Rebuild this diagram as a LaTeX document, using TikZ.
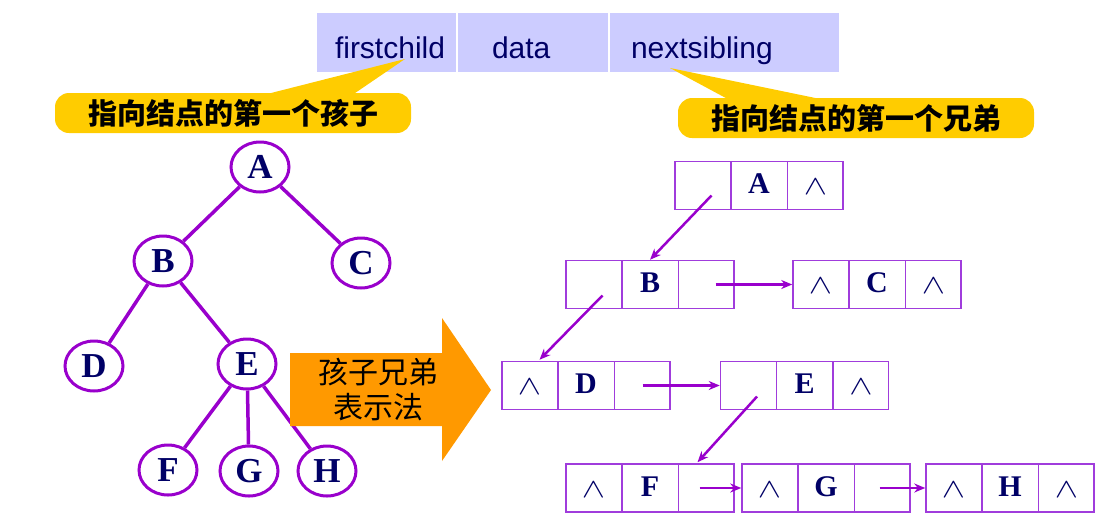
\documentclass[tikz,border=0pt]{standalone}
\usepackage{fontspec}
\setmainfont{Liberation Serif}
\setsansfont{Liberation Sans}
\newfontfamily\cjk{Noto Sans CJK SC}
\usetikzlibrary{calc,shapes.multipart,shapes.geometric,arrows.meta}
\definecolor{treepurple}{HTML}{9900CC}
\definecolor{boxpurple}{HTML}{A03CDC}
\definecolor{navy}{HTML}{000066}
\definecolor{lavender}{HTML}{CCCCFF}
\definecolor{notegold}{HTML}{FFCC00}
\definecolor{arroworange}{HTML}{FF9900}
\newcommand{\cell}[1]{\makebox[55pt]{\rule[-16pt]{0pt}{48pt}#1}}
\newcommand{\nullmark}{{\fontsize{24}{24}\selectfont\raisebox{-1pt}{\scalebox{1.4}[1.1]{$\wedge$}}}}
\newcommand{\fmtcell}[3]{\makebox[#1pt][l]{\rule[-15pt]{0pt}{61pt}\hspace{#2pt}#3}}

\begin{document}
\begin{tikzpicture}[
x=1pt, y=-1pt,
vertex/.style={
	ellipse, draw=treepurple, line width=3pt,
	minimum width=58pt, minimum height=50pt,
	inner sep=0pt, text=navy,
	font=\fontsize{35}{35}\selectfont\bfseries
},
edge/.style={draw=treepurple, line width=3.5pt},
rec/.style={
	rectangle split, rectangle split parts=3,
	rectangle split horizontal, draw=boxpurple,
	line width=1.5pt, inner sep=0pt, text=navy,
	font=\fontsize{30}{30}\selectfont\bfseries
},
fmt/.style={
	rectangle split, rectangle split parts=3,
	rectangle split horizontal, draw=white, fill=lavender,
	line width=2pt, inner sep=0pt, text=navy,
	font=\sffamily\fontsize{30}{30}\selectfont
},
note/.style={
	fill=notegold, rounded corners=14pt,
	minimum width=356pt, minimum height=40pt, inner sep=0pt,
	font=\cjk\bfseries\fontsize{29}{29}\selectfont
},
link/.style={draw=treepurple, line width=2.5pt, -{Stealth[length=11pt,width=9pt]}}
]
\useasboundingbox (0,0) rectangle (1102,528);

% node format
\node[fmt] (fmt) at (578,42.5)
	{\fmtcell{140}{19}{firstchild}\nodepart{two}\fmtcell{150}{34}{data}\nodepart{three}\fmtcell{230}{21}{nextsibling}};
\coordinate (childtip) at ($(fmt.one south)+(19,-15)$);
\coordinate (siblingtip) at ($(fmt.three south)+(-55,-6)$);
\node[note] (childnote) at (233,113) {指向结点的第一个孩子};
\node[note] (siblingnote) at (856,118) {指向结点的第一个兄弟};
\fill[notegold] ($(childnote.north)+(27,3)$) -- (childtip) -- ($(childnote.north)+(118,3)$) -- cycle;
\fill[notegold] ($(siblingnote.north)+(-125,3)$) -- (siblingtip) -- ($(siblingnote.north)+(-27,3)$) -- cycle;

% the tree
\foreach \n/\x/\y in {A/260/167, B/163/261, C/361/263, D/94/366, E/247/364, F/168/470, G/249/471, H/327/471}
	\node[vertex] (\n) at (\x,\y) {\n};
\foreach \a/\b in {A/B, A/C, B/D, B/E, E/F, E/G, E/H}
	\draw[edge] (\a) -- (\b);

% arrow
\fill[arroworange] (290,353) -- (442,353) -- (442,318) -- (491,390) -- (442,461) -- (442,426) -- (290,426) -- cycle;
\node[font=\cjk\fontsize{30}{35}\selectfont, align=center] (method) at (378,390) {孩子兄弟\\表示法};

% child-sibling list
\node[rec] (rA) at (759,185.5) {\cell{}\nodepart{two}\cell{A}\nodepart{three}\cell{\nullmark}};
\node[rec] (rB) at (650,284.5) {\cell{}\nodepart{two}\cell{B}\nodepart{three}\cell{}};
\node[rec] (rC) at (877,284.5) {\cell{\nullmark}\nodepart{two}\cell{C}\nodepart{three}\cell{\nullmark}};
\node[rec] (rD) at (586,385.5) {\cell{\nullmark}\nodepart{two}\cell{D}\nodepart{three}\cell{}};
\node[rec] (rE) at (804.5,385.5) {\cell{}\nodepart{two}\cell{E}\nodepart{three}\cell{\nullmark}};
\node[rec] (rF) at (650,488) {\cell{\nullmark}\nodepart{two}\cell{F}\nodepart{three}\cell{}};
\node[rec] (rG) at (826,488) {\cell{\nullmark}\nodepart{two}\cell{G}\nodepart{three}\cell{}};
\node[rec] (rH) at (1010,488) {\cell{\nullmark}\nodepart{two}\cell{H}\nodepart{three}\cell{\nullmark}};

\draw[link] ($(rA.one north)!.5!(rA.one south)+(9,10)$) -- (rB.two north);
\draw[link] ($(rB.one north)!.5!(rB.one south)+(9,11)$) -- ($(rD.one north)+(10,-1)$);
\draw[link] ($(rB.three north)!.5!(rB.three south)+(9,0)$) -- (rC.west);
\draw[link] ($(rD.three north)!.5!(rD.three south)$) -- (rE.west);
\draw[link] ($(rE.one north)!.5!(rE.one south)+(9,11)$) -- ($(rF.three north)+(-9,-1)$);
\draw[link] ($(rF.three north)!.5!(rF.three south)+(-7,0)$) -- (rG.west);
\draw[link] ($(rG.three north)!.5!(rG.three south)+(-3,0)$) -- (rH.west);
\end{tikzpicture}
\end{document}
